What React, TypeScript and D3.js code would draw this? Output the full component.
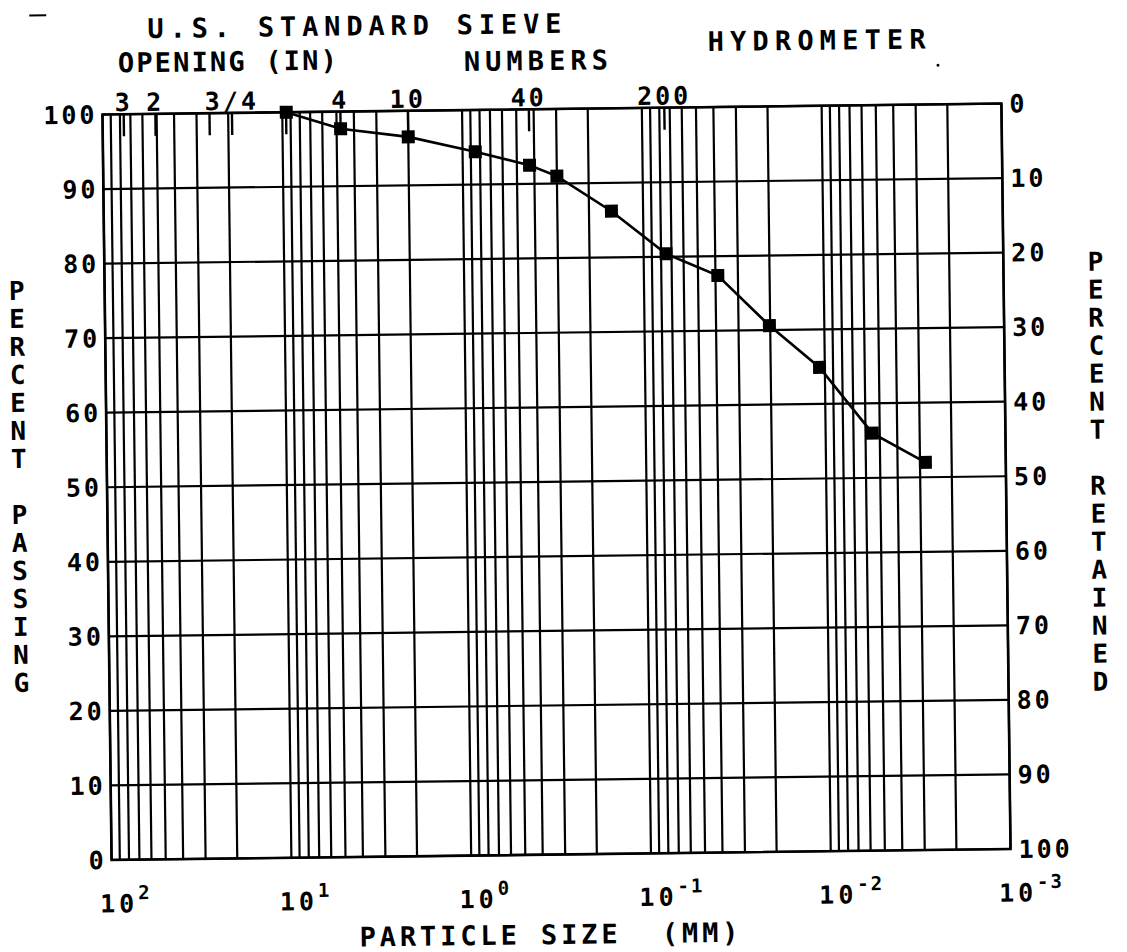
import * as d3 from "d3";

// sieve analysis + hydrometer readings (particle size in mm, percent passing)
const particleSize = [9.5, 4.75, 2.0, 0.85, 0.425, 0.3, 0.15, 0.075, 0.0388, 0.0202, 0.0107, 0.0055, 0.0028];
const percentPassing = [100, 97.7, 96.5, 94.4, 92.5, 91.0, 86.2, 80.4, 77.4, 70.6, 64.9, 56.0, 52.0];

const passingTicks = [0, 10, 20, 30, 40, 50, 60, 70, 80, 90, 100];
const decadeExponents = [2, 1, 0, -1, -2, -3];

// U.S. standard sieve marks along the top (mm)
const sieveLabels = ["3", "2", "3/4", "4", "10", "40", "200"];
const sieveLabelSizes = [76.2, 50.8, 19.05, 4.75, 2.0, 0.425, 0.075];
const sieveTickSizes = [76.2, 50.8, 25.4, 19.05, 9.525, 4.75, 2.0, 0.425, 0.075];

const leftTitle = "PERCENT PASSING";
const rightTitle = "PERCENT RETAINED";

const W = 1127;
const H = 952;
const plot = { left: 107, right: 1006, top: 109, bottom: 854.5 };
// the scanned sheet sits a little crooked
const tilt = { angle: -0.7, cx: 556.7, cy: 481.75 };
const font = "'DejaVu Sans Mono', monospace";

export default function App() {
  const x = d3.scaleLog().domain([100, 0.001]).range([plot.left, plot.right]);
  const y = d3.scaleLinear().domain([0, 100]).range([plot.bottom, plot.top]);

  const curve = d3
    .line<number>()
    .x((_, i) => x(particleSize[i]))
    .y((d) => y(d));

  const gridX = x.ticks();
  const ink = "#000";

  return (
    <svg
      width={W}
      height={H}
      style={{ position: "absolute", left: 0, top: 0, background: "#fff" }}
      fontFamily={font}
      fontWeight="bold"
      fill={ink}
    >
      <rect width={W} height={H} fill="#fff" />
      <g transform={`rotate(${tilt.angle}, ${tilt.cx}, ${tilt.cy})`}>
        {/* grid */}
        {gridX.map((v, i) => (
          <line key={"gx" + i} x1={x(v)} x2={x(v)} y1={plot.top} y2={plot.bottom} stroke={ink} strokeWidth={2.2} />
        ))}
        {passingTicks.map((v) => (
          <line key={"gy" + v} x1={plot.left} x2={plot.right} y1={y(v)} y2={y(v)} stroke={ink} strokeWidth={2.2} />
        ))}
        <rect
          x={plot.left}
          y={plot.top}
          width={plot.right - plot.left}
          height={plot.bottom - plot.top}
          fill="none"
          stroke={ink}
          strokeWidth={2.6}
        />

        {/* sieve ticks and labels */}
        {sieveTickSizes.map((s, i) => (
          <line key={"st" + i} x1={x(s)} x2={x(s)} y1={plot.top} y2={plot.top + 22} stroke={ink} strokeWidth={2.4} />
        ))}
        {sieveLabels.map((t, i) => (
          <text
            key={"sl" + i}
            x={x(sieveLabelSizes[i])}
            y={plot.top - 3}
            textAnchor="middle"
            fontSize={25}
            letterSpacing={3}
          >
            {t}
          </text>
        ))}

        {/* titles */}
        <text x={153} y={33} fontSize={27} textLength={414} lengthAdjust="spacing">
          U.S. STANDARD SIEVE
        </text>
        <text x={123} y={67} fontSize={27} textLength={219} lengthAdjust="spacing">
          OPENING (IN)
        </text>
        <text x={469} y={70} fontSize={27} textLength={144} lengthAdjust="spacing">
          NUMBERS
        </text>
        <text x={713} y={53} fontSize={27} textLength={218} lengthAdjust="spacing">
          HYDROMETER
        </text>
        <text x={354} y={944} fontSize={27} textLength={379} lengthAdjust="spacing" xmlSpace="preserve">
          PARTICLE SIZE  (MM)
        </text>
        <line x1={35} x2={52} y1={9} y2={9} stroke={ink} strokeWidth={2} />
        <circle cx={943} cy={70} r={1.5} />

        {/* left axis: percent passing */}
        {passingTicks.map((v) => (
          <text key={"ly" + v} x={plot.left - 5} y={y(v)} dy="0.36em" textAnchor="end" fontSize={25} letterSpacing={3}>
            {v}
          </text>
        ))}
        {/* right axis: percent retained */}
        {passingTicks.map((v) => (
          <text key={"ry" + v} x={plot.right + 8} y={y(v)} dy="0.36em" fontSize={25} letterSpacing={3}>
            {100 - v}
          </text>
        ))}

        {/* bottom axis: decades */}
        {decadeExponents.map((e) => (
          <text key={"dx" + e} x={x(Math.pow(10, e)) - 12} y={907} fontSize={25} letterSpacing={4}>
            10
            <tspan dy={-13} fontSize={19} letterSpacing={2}>
              {e < 0 ? "-" + Math.abs(e) : String(e)}
            </tspan>
          </text>
        ))}

        {/* stacked axis titles */}
        {leftTitle.split("").map((c, i) => (
          <text key={"lt" + i} x={19} y={284 + i * 28} dy="0.36em" textAnchor="middle" fontSize={26}>
            {c}
          </text>
        ))}
        {rightTitle.split("").map((c, i) => (
          <text key={"rt" + i} x={1098} y={268 + i * 28} dy="0.36em" textAnchor="middle" fontSize={26}>
            {c}
          </text>
        ))}

        {/* gradation curve */}
        <path d={curve(percentPassing) ?? ""} fill="none" stroke={ink} strokeWidth={2.6} />
        {percentPassing.map((v, i) => (
          <rect key={"pt" + i} x={x(particleSize[i]) - 6.5} y={y(v) - 6.5} width={13} height={13} fill={ink} />
        ))}
      </g>
    </svg>
  );
}
